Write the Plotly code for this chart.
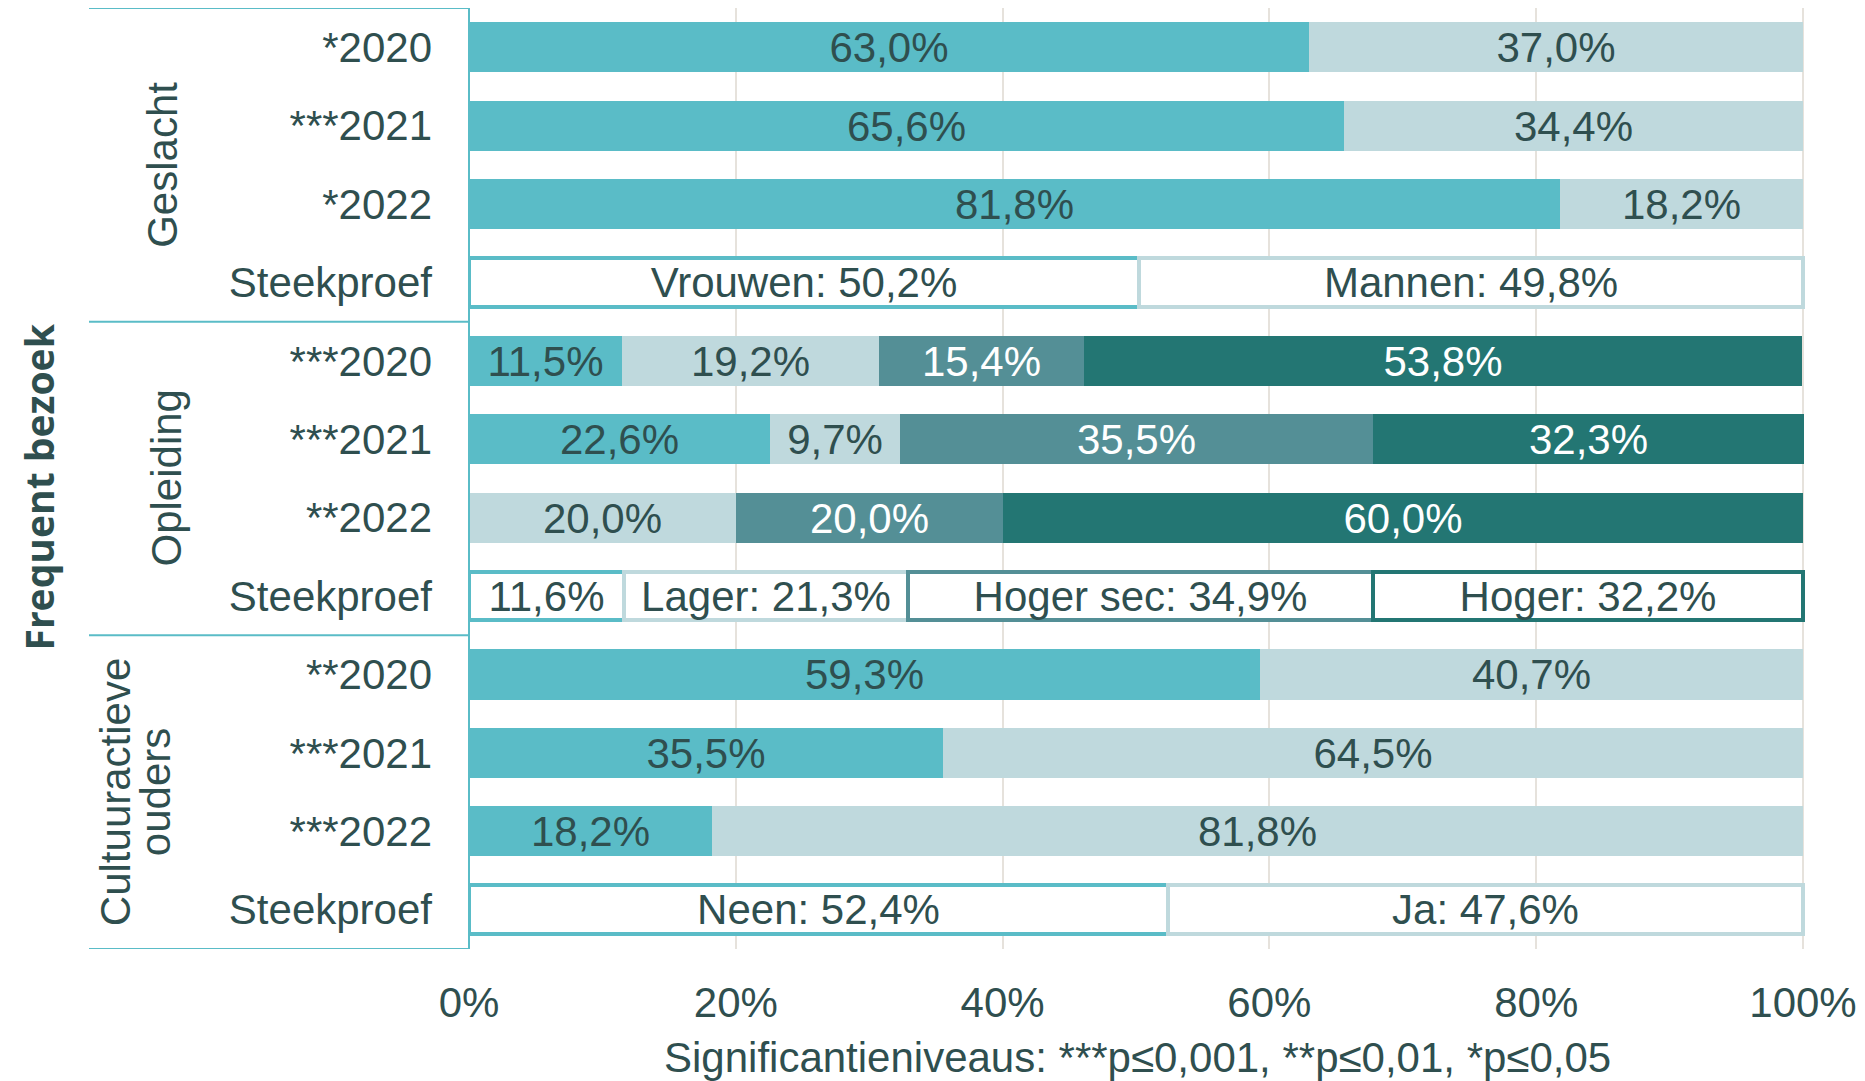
import plotly.graph_objects as go

# ---------------- data ----------------
geslacht_rows = ["*2020", "***2021", "*2022"]
geslacht_vrouwen = [63.0, 65.6, 81.8]
geslacht_mannen = [37.0, 34.4, 18.2]
geslacht_steekproef = [50.2, 49.8]
geslacht_steekproef_labels = ["Vrouwen: ", "Mannen: "]

opleiding_rows = ["***2020", "***2021", "**2022"]
opleiding_geen = [11.5, 22.6, 0.0]
opleiding_lager = [19.2, 9.7, 20.0]
opleiding_hogersec = [15.4, 35.5, 20.0]
opleiding_hoger = [53.8, 32.3, 60.0]
opleiding_steekproef = [11.6, 21.3, 34.9, 32.2]
opleiding_steekproef_labels = ["", "Lager: ", "Hoger sec: ", "Hoger: "]

cultuur_rows = ["**2020", "***2021", "***2022"]
cultuur_neen = [59.3, 35.5, 18.2]
cultuur_ja = [40.7, 64.5, 81.8]
cultuur_steekproef = [52.4, 47.6]
cultuur_steekproef_labels = ["Neen: ", "Ja: "]

group_names = [["Geslacht"], ["Opleiding"], ["Cultuuractieve", "ouders"]]
steekproef_label = "Steekproef"
x_ticks = [0, 20, 40, 60, 80, 100]
x_ticklabels = ["0%", "20%", "40%", "60%", "80%", "100%"]
footnote = "Significantieniveaus: ***p≤0,001, **p≤0,01, *p≤0,05"
axis_title = "Frequent bezoek"

# ---------------- styles ----------------
C1 = "#5ABCC7"   # light teal
C2 = "#BFD9DD"   # light grey-blue
C3 = "#548F96"   # medium teal
C4 = "#237673"   # dark teal
TXT = "#2F4F4F"
GRID = "#E6E2DC"
FONT = "Liberation Sans, Arial, sans-serif"
FS = 42
BARW = 0.64
OFF = 8  # page body margin


def fmt(v):
    return (f"{v:.1f}".replace(".", ",") + "%") if v else ""


fig = go.Figure()


def add_seg(ys, vals, color, tcolor):
    fig.add_trace(go.Bar(
        x=vals, y=ys, orientation="h", width=BARW,
        marker=dict(color=color, line=dict(width=0)),
        text=[fmt(v) for v in vals], textposition="inside",
        insidetextanchor="middle", constraintext="none",
        textfont=dict(family=FONT, size=FS, color=tcolor),
        hoverinfo="x+y", showlegend=False, cliponaxis=False,
    ))


def add_sample(y, vals, labels, colors):
    for v, lab, col in zip(vals, labels, colors):
        fig.add_trace(go.Bar(
            x=[v], y=[y], orientation="h", width=BARW - 0.02,
            marker=dict(color="white", line=dict(width=4, color=col)),
            text=[lab + fmt(v)], textposition="inside",
            insidetextanchor="middle", constraintext="none",
            textfont=dict(family=FONT, size=FS, color=TXT),
            hoverinfo="x+y", showlegend=False, cliponaxis=False,
        ))


tickvals, ticktext = [], []
pos = 0
groups = []
# Geslacht
ys = list(range(pos, pos + 3))
add_seg(ys, geslacht_vrouwen, C1, TXT)
add_seg(ys, geslacht_mannen, C2, TXT)
add_sample(pos + 3, geslacht_steekproef, geslacht_steekproef_labels, [C1, C2])
tickvals += list(range(pos, pos + 4)); ticktext += geslacht_rows + [steekproef_label]
groups.append(pos); pos += 4
# Opleiding
ys = list(range(pos, pos + 3))
add_seg(ys, opleiding_geen, C1, TXT)
add_seg(ys, opleiding_lager, C2, TXT)
add_seg(ys, opleiding_hogersec, C3, "white")
add_seg(ys, opleiding_hoger, C4, "white")
add_sample(pos + 3, opleiding_steekproef, opleiding_steekproef_labels, [C1, C2, C3, C4])
tickvals += list(range(pos, pos + 4)); ticktext += opleiding_rows + [steekproef_label]
groups.append(pos); pos += 4
# Cultuuractieve ouders
ys = list(range(pos, pos + 3))
add_seg(ys, cultuur_neen, C1, TXT)
add_seg(ys, cultuur_ja, C2, TXT)
add_sample(pos + 3, cultuur_steekproef, cultuur_steekproef_labels, [C1, C2])
tickvals += list(range(pos, pos + 4)); ticktext += cultuur_rows + [steekproef_label]
groups.append(pos); pos += 4

# figure coordinates = screen coordinates - OFF
W, H = 1865 - OFF, 1081 - OFF
PX0, PX1 = 469 - OFF, 1805 - OFF      # plot left/right
PY0, PY1 = 0, 949 - OFF               # plot top/bottom
L, R, T, B = PX0, W - PX1, PY0, H - PY1
pw, ph = PX1 - PX0, PY1 - PY0


def px(sx):
    return (sx - OFF - PX0) / pw


def py(sy):
    return (PY1 - (sy - OFF)) / ph


shapes = []
for g in groups + [pos]:
    shapes.append(dict(type="line", xref="paper", yref="y",
                       x0=px(89), x1=0, y0=g - 0.5, y1=g - 0.5,
                       line=dict(color=C1, width=2)))
shapes.append(dict(type="line", xref="paper", yref="paper", x0=0, x1=0, y0=0, y1=1,
                   line=dict(color=C1, width=2)))
shapes.append(dict(type="line", xref="paper", yref="paper",
                   x0=px(1862), x1=px(1862), y0=py(987), y1=py(OFF),
                   line=dict(color=TXT, width=2)))

annotations = []
group_x = [[163], [166], [115, 155]]
for g, names, gxs in zip(groups, group_names, group_x):
    for name, gx in zip(names, gxs):
        annotations.append(dict(text=name, xref="paper", yref="y",
                                x=px(gx), y=g + 1.5, showarrow=False,
                                textangle=-90, xanchor="center", yanchor="middle",
                                font=dict(family=FONT, size=FS, color=TXT)))
annotations.append(dict(text="<b>" + axis_title + "</b>", xref="paper", yref="paper",
                        x=px(OFF + 1), y=py(487), showarrow=False,
                        textangle=-90, xanchor="left", yanchor="middle",
                        font=dict(family="Open Sans, sans-serif", size=39, color=TXT)))
annotations.append(dict(text=footnote, xref="paper", yref="paper",
                        x=0.5, y=py(1057), showarrow=False,
                        xanchor="center", yanchor="middle",
                        font=dict(family=FONT, size=FS, color=TXT)))

fig.update_layout(
    width=W, height=H, barmode="stack", bargap=0,
    margin=dict(l=L, r=R, t=T, b=B),
    paper_bgcolor="white", plot_bgcolor="white",
    shapes=shapes, annotations=annotations,
    xaxis=dict(range=[0, 100.15], tickvals=x_ticks, ticktext=x_ticklabels,
               showgrid=True, gridcolor=GRID, gridwidth=2, zeroline=False,
               showline=False, ticks="", ticklabelstandoff=25,
               tickfont=dict(family=FONT, size=FS, color=TXT), fixedrange=True),
    yaxis=dict(range=[pos - 0.5, -0.5], tickvals=tickvals, ticktext=ticktext,
               showgrid=False, zeroline=False, showline=False, ticks="",
               ticklabelstandoff=36,
               tickfont=dict(family=FONT, size=FS, color=TXT), fixedrange=True),
)

fig.write_html("out.html")
